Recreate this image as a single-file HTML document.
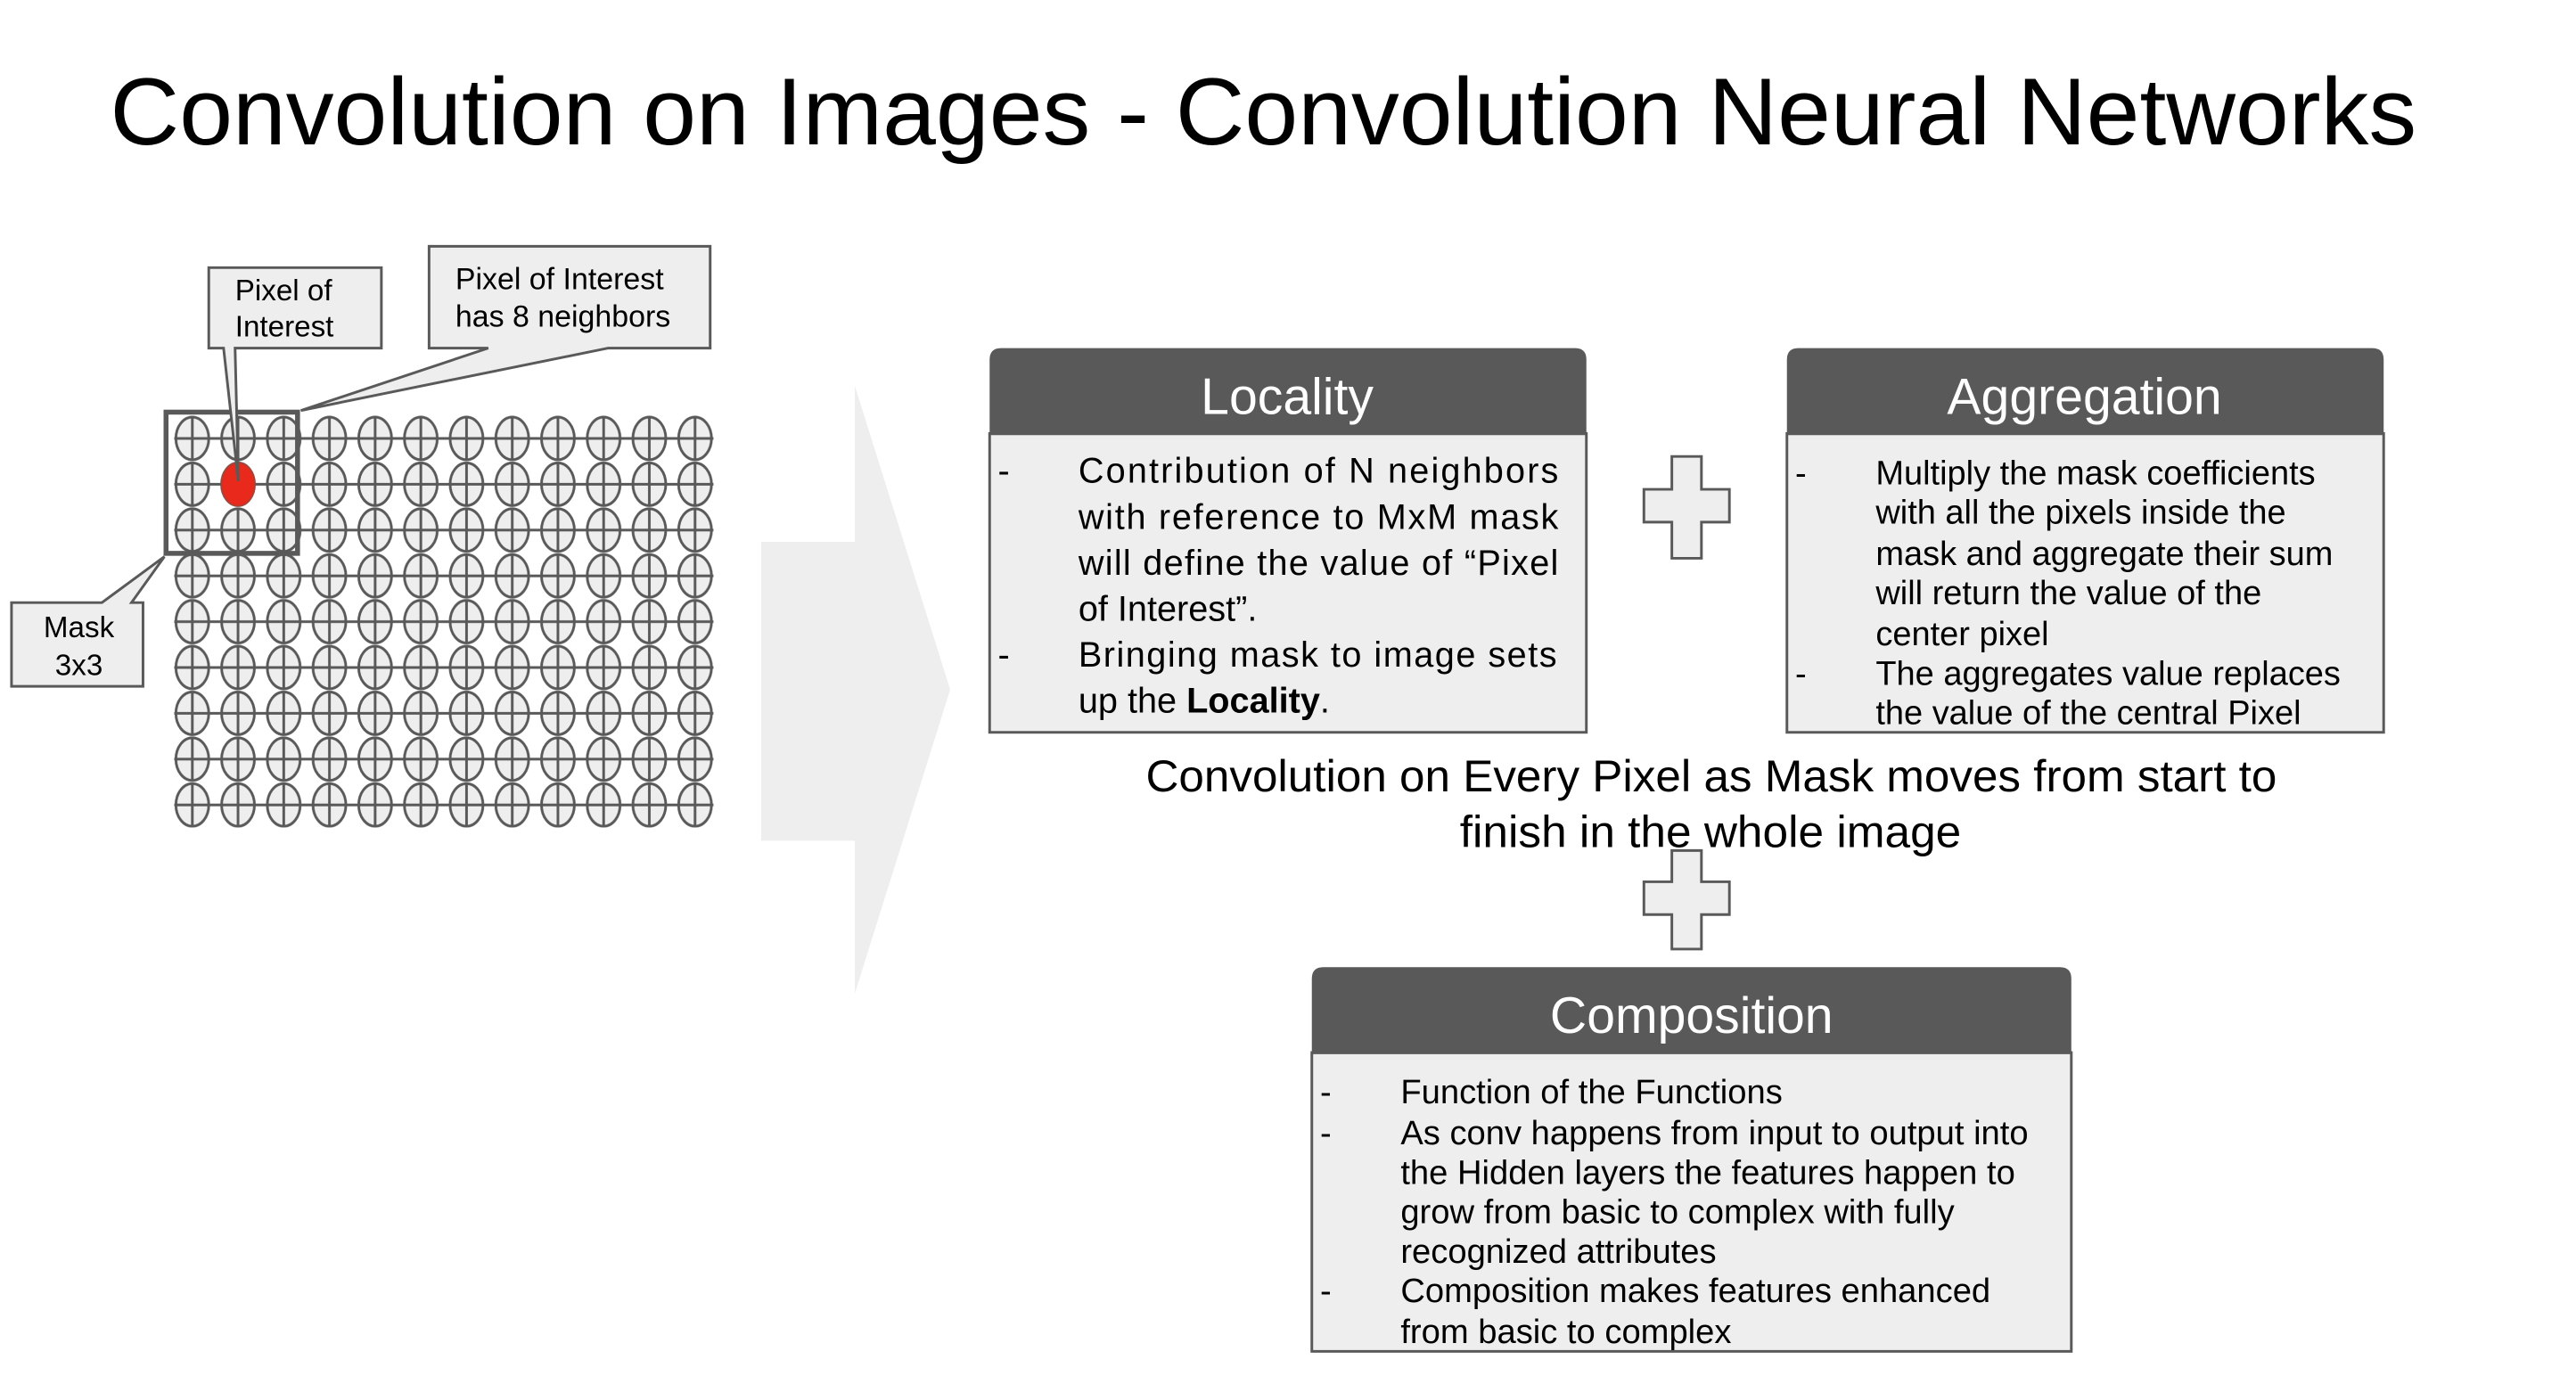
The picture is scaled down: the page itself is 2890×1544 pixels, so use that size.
<!DOCTYPE html>
<html><head><meta charset="utf-8"><style>
html,body{margin:0;padding:0;background:#fff;}
svg{display:block;}
text{font-family:"Liberation Sans",Arial,sans-serif;}
</style></head><body>
<svg width="2890" height="1544" viewBox="0 0 1567 838" preserveAspectRatio="none" xmlns="http://www.w3.org/2000/svg">
<defs>
<pattern id="g" x="103" y="253" width="27.8" height="27.9" patternUnits="userSpaceOnUse">
<line x1="0" y1="14" x2="27.8" y2="14" stroke="#595959" stroke-width="1.6"/>
<ellipse cx="14" cy="14" rx="10" ry="13" fill="#eeeeee" stroke="#595959" stroke-width="1.6"/>
<line x1="4" y1="14" x2="24" y2="14" stroke="#595959" stroke-width="1.6"/>
<line x1="14" y1="1" x2="14" y2="27" stroke="#595959" stroke-width="1.6"/>
</pattern>
</defs>
<text x="67" y="88" font-size="58" textLength="1403" lengthAdjust="spacingAndGlyphs">Convolution on Images - Convolution Neural Networks</text>

<!-- grid -->
<rect x="106" y="253" width="328" height="251" fill="url(#g)"/>
<ellipse cx="145" cy="295" rx="10" ry="13" fill="#e8291c" stroke="#c0392b" stroke-width="1"/>
<rect x="101" y="251" width="80" height="86" fill="none" stroke="#595959" stroke-width="3"/>

<!-- callouts -->
<path d="M127,163 H232 V212 H143 L145,293 L136,212 H127 Z" fill="#eeeeee" stroke="#595959" stroke-width="1.6"/>
<text x="143" y="183" font-size="18">Pixel of</text>
<text x="143" y="205" font-size="18">Interest</text>
<path d="M261,150 H432 V212 H370 L183,250 L297,212 H261 Z" fill="#eeeeee" stroke="#595959" stroke-width="1.6"/>
<text x="277" y="176" font-size="18.4">Pixel of Interest</text>
<text x="277" y="199" font-size="18.4">has 8 neighbors</text>
<path d="M7,367 H62 L100,339 L80,367 H87 V418 H7 Z" fill="#eeeeee" stroke="#595959" stroke-width="1.6"/>
<text x="48" y="388" font-size="18" text-anchor="middle">Mask</text>
<text x="48" y="411" font-size="18" text-anchor="middle">3x3</text>

<!-- big arrow -->
<path d="M463,330 H520 V235 L578,420 L520,605 V512 H463 Z" fill="#eeeeee"/>

<!-- Locality -->
<rect x="602" y="264" width="363" height="182" fill="#eeeeee" stroke="#595959" stroke-width="1.6"/>
<path d="M602,265 V219 Q602,212 609,212 H958 Q965,212 965,219 V265 Z" fill="#595959"/>
<text x="783" y="252" font-size="31" fill="#fff" text-anchor="middle">Locality</text>
<g font-size="21.5">
<text x="607" y="294">-</text>
<text x="656" y="294" textLength="292" lengthAdjust="spacing">Contribution of N neighbors</text>
<text x="656" y="322" textLength="292" lengthAdjust="spacing">with reference to MxM mask</text>
<text x="656" y="350" textLength="292" lengthAdjust="spacing">will define the value of “Pixel</text>
<text x="656" y="378">of Interest”.</text>
<text x="607" y="406">-</text>
<text x="656" y="406" textLength="291" lengthAdjust="spacing">Bringing mask to image sets</text>
<text x="656" y="434">up the <tspan font-weight="bold">Locality</tspan>.</text>
</g>

<!-- plus 1 -->
<path d="M1017,278 H1035 V298 H1052 V318 H1035 V340 H1017 V318 H1000 V298 H1017 Z" fill="#eeeeee" stroke="#595959" stroke-width="1.6"/>

<!-- Aggregation -->
<rect x="1087" y="264" width="363" height="182" fill="#eeeeee" stroke="#595959" stroke-width="1.6"/>
<path d="M1087,265 V219 Q1087,212 1094,212 H1443 Q1450,212 1450,219 V265 Z" fill="#595959"/>
<text x="1268" y="252" font-size="31" fill="#fff" text-anchor="middle">Aggregation</text>
<g font-size="20.6">
<text x="1092" y="295">-</text>
<text x="1141" y="295">Multiply the mask coefficients</text>
<text x="1141" y="319">with all the pixels inside the</text>
<text x="1141" y="344">mask and aggregate their sum</text>
<text x="1141" y="368">will return the value of the</text>
<text x="1141" y="393">center pixel</text>
<text x="1092" y="417">-</text>
<text x="1141" y="417">The aggregates value replaces</text>
<text x="1141" y="441">the value of the central Pixel</text>
</g>

<!-- middle text -->
<text x="697" y="482" font-size="27" textLength="688" lengthAdjust="spacingAndGlyphs">Convolution on Every Pixel as Mask moves from start to</text>
<path d="M1017,518 H1035 V537 H1052 V557 H1035 V578 H1017 V557 H1000 V537 H1017 Z" fill="#eeeeee" stroke="#595959" stroke-width="1.6"/>
<text x="888" y="516" font-size="27" textLength="305" lengthAdjust="spacingAndGlyphs">finish in the whole image</text>

<!-- Composition -->
<rect x="798" y="641" width="462" height="182" fill="#eeeeee" stroke="#595959" stroke-width="1.6"/>
<path d="M798,642 V596 Q798,589 805,589 H1253 Q1260,589 1260,596 V642 Z" fill="#595959"/>
<text x="1029" y="629" font-size="31" fill="#fff" text-anchor="middle">Composition</text>
<g font-size="20.7">
<text x="803" y="672">-</text>
<text x="852" y="672">Function of the Functions</text>
<text x="803" y="697">-</text>
<text x="852" y="697">As conv happens from input to output into</text>
<text x="852" y="721">the Hidden layers the features happen to</text>
<text x="852" y="745">grow from basic to complex with fully</text>
<text x="852" y="769">recognized attributes</text>
<text x="803" y="793">-</text>
<text x="852" y="793">Composition makes features enhanced</text>
<text x="852" y="818">from basic to complex</text>
</g>
</svg>
</body></html>
